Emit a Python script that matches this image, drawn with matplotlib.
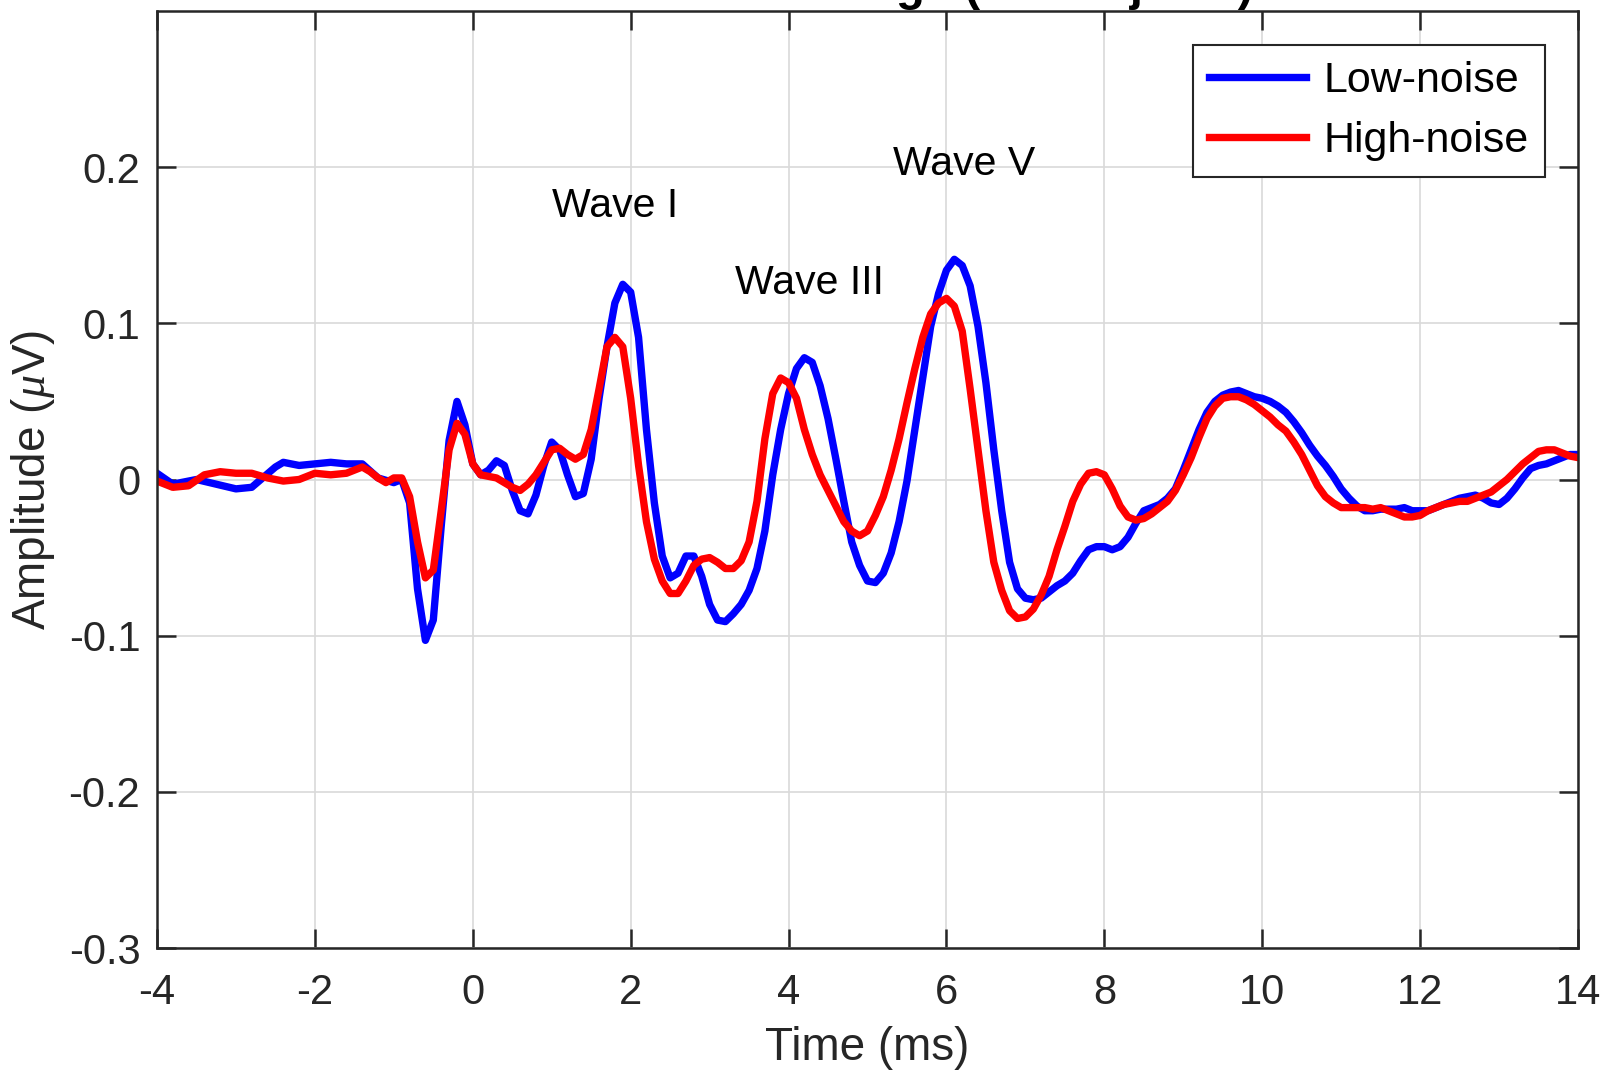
import numpy as np
import matplotlib
matplotlib.use("Agg")
import matplotlib.pyplot as plt

plt.rcParams['font.family'] = ['Liberation Sans', 'DejaVu Sans']
plt.rcParams['axes.unicode_minus'] = False
plt.rcParams['mathtext.fontset'] = 'custom'
plt.rcParams['mathtext.it'] = 'Liberation Serif:italic'

# Grand-average ABR waveforms (time in ms, amplitude in microvolts)
t_low = [-4.0, -3.8, -3.5, -3.0, -2.8, -2.5, -2.4, -2.2, -2.0, -1.8, -1.6, -1.4,
         -1.2, -1.0, -0.9, -0.8, -0.7, -0.6, -0.5, -0.4, -0.3, -0.2, -0.1,
         0.0, 0.1, 0.2, 0.3, 0.4, 0.5, 0.6, 0.7, 0.8, 0.9, 1.0, 1.1, 1.2, 1.3,
         1.4, 1.5, 1.6, 1.7, 1.8, 1.9, 2.0, 2.1, 2.2, 2.3, 2.4, 2.5, 2.6, 2.7,
         2.8, 2.9, 3.0, 3.1, 3.2, 3.3, 3.4, 3.5, 3.6, 3.7, 3.8, 3.9, 4.0, 4.1,
         4.2, 4.3, 4.4, 4.5, 4.6, 4.7, 4.8, 4.9, 5.0, 5.1, 5.2, 5.3, 5.4, 5.5,
         5.6, 5.7, 5.8, 5.9, 6.0, 6.1, 6.2, 6.3, 6.4, 6.5, 6.6, 6.7, 6.8, 6.9,
         7.0, 7.1, 7.2, 7.3, 7.4, 7.5, 7.6, 7.7, 7.8, 7.9, 8.0, 8.1, 8.2, 8.3,
         8.4, 8.5, 8.6, 8.7, 8.8, 8.9, 9.0, 9.1, 9.2, 9.3, 9.4, 9.5, 9.6, 9.7,
         9.8, 9.9, 10.0, 10.1, 10.2, 10.3, 10.4, 10.5, 10.6, 10.7, 10.8, 10.9,
         11.0, 11.1, 11.2, 11.3, 11.4, 11.5, 11.6, 11.7, 11.8, 11.9, 12.0, 12.1,
         12.2, 12.3, 12.4, 12.5, 12.6, 12.7, 12.8, 12.9, 13.0, 13.1, 13.2, 13.3,
         13.4, 13.5, 13.6, 13.7, 13.8, 13.9, 14.0]
low_noise = [0.004, -0.003, 0.000, -0.006, -0.005, 0.008, 0.011, 0.009, 0.010, 0.011, 0.010, 0.010,
             0.001, -0.002, 0.000, -0.015, -0.070, -0.103, -0.090, -0.030, 0.025, 0.050, 0.035,
             0.010, 0.003, 0.006, 0.012, 0.009, -0.007, -0.020, -0.022, -0.010, 0.009, 0.024, 0.019, 0.003, -0.011,
             -0.009, 0.013, 0.052, 0.085, 0.113, 0.125, 0.120, 0.091, 0.032, -0.015, -0.049, -0.063, -0.060, -0.049,
             -0.049, -0.062, -0.080, -0.090, -0.091, -0.086, -0.080, -0.071, -0.057, -0.033, 0.003, 0.032, 0.055, 0.071,
             0.078, 0.075, 0.060, 0.039, 0.013, -0.014, -0.040, -0.055, -0.065, -0.066, -0.060, -0.047, -0.027, -0.001,
             0.032, 0.065, 0.098, 0.119, 0.134, 0.141, 0.137, 0.124, 0.098, 0.062, 0.019, -0.020, -0.053, -0.070,
             -0.076, -0.077, -0.076, -0.072, -0.068, -0.065, -0.060, -0.052, -0.045, -0.043, -0.043, -0.045, -0.043, -0.037,
             -0.028, -0.020, -0.018, -0.016, -0.012, -0.006, 0.006, 0.019, 0.032, 0.043, 0.050, 0.054, 0.056, 0.057,
             0.055, 0.053, 0.052, 0.050, 0.047, 0.043, 0.037, 0.030, 0.022, 0.015, 0.009, 0.002,
             -0.006, -0.012, -0.017, -0.020, -0.020, -0.019, -0.019, -0.019, -0.018, -0.020, -0.020, -0.020,
             -0.018, -0.016, -0.014, -0.012, -0.011, -0.010, -0.012, -0.015, -0.016, -0.012, -0.006, 0.001,
             0.007, 0.009, 0.010, 0.012, 0.014, 0.016, 0.016]

t_high = [-4.0, -3.8, -3.6, -3.4, -3.2, -3.0, -2.8, -2.6, -2.4, -2.2, -2.0, -1.8, -1.6,
          -1.4, -1.3, -1.2, -1.1, -1.0, -0.9, -0.8, -0.7, -0.6, -0.5, -0.4, -0.3, -0.2, -0.1,
          0.0, 0.1, 0.2, 0.3, 0.4, 0.5, 0.6, 0.7, 0.8, 0.9, 1.0, 1.1, 1.2, 1.3,
          1.4, 1.5, 1.6, 1.7, 1.8, 1.9, 2.0, 2.1, 2.2, 2.3, 2.4, 2.5, 2.6, 2.7,
          2.8, 2.9, 3.0, 3.1, 3.2, 3.3, 3.4, 3.5, 3.6, 3.7, 3.8, 3.9, 4.0, 4.1,
          4.2, 4.3, 4.4, 4.5, 4.6, 4.7, 4.8, 4.9, 5.0, 5.1, 5.2, 5.3, 5.4, 5.5,
          5.6, 5.7, 5.8, 5.9, 6.0, 6.1, 6.2, 6.3, 6.4, 6.5, 6.6, 6.7, 6.8, 6.9,
          7.0, 7.1, 7.2, 7.3, 7.4, 7.5, 7.6, 7.7, 7.8, 7.9, 8.0, 8.1, 8.2, 8.3,
          8.4, 8.5, 8.6, 8.7, 8.8, 8.9, 9.0, 9.1, 9.2, 9.3, 9.4, 9.5, 9.6, 9.7,
          9.8, 9.9, 10.0, 10.1, 10.2, 10.3, 10.4, 10.5, 10.6, 10.7, 10.8, 10.9,
          11.0, 11.1, 11.2, 11.3, 11.4, 11.5, 11.6, 11.7, 11.8, 11.9, 12.0, 12.1,
          12.2, 12.3, 12.4, 12.5, 12.6, 12.7, 12.8, 12.9, 13.0, 13.1, 13.2, 13.3,
          13.4, 13.5, 13.6, 13.7, 13.8, 13.9, 14.0]
high_noise = [-0.001, -0.005, -0.004, 0.003, 0.005, 0.004, 0.004, 0.001, -0.001, 0.000, 0.004, 0.003, 0.004,
              0.008, 0.005, 0.001, -0.002, 0.001, 0.001, -0.011, -0.040, -0.063, -0.058, -0.020, 0.019, 0.036, 0.029,
              0.010, 0.003, 0.002, 0.001, -0.002, -0.005, -0.007, -0.003, 0.003, 0.011, 0.019, 0.020, 0.016, 0.013,
              0.016, 0.032, 0.058, 0.085, 0.091, 0.085, 0.052, 0.009, -0.027, -0.051, -0.065, -0.073, -0.073, -0.065,
              -0.055, -0.051, -0.050, -0.053, -0.057, -0.057, -0.052, -0.040, -0.014, 0.026, 0.055, 0.065, 0.062, 0.052,
              0.032, 0.016, 0.003, -0.007, -0.017, -0.027, -0.033, -0.036, -0.033, -0.023, -0.011, 0.006, 0.026, 0.049,
              0.071, 0.091, 0.106, 0.113, 0.116, 0.111, 0.095, 0.058, 0.019, -0.020, -0.053, -0.071, -0.084, -0.089,
              -0.088, -0.083, -0.074, -0.062, -0.045, -0.030, -0.014, -0.003, 0.004, 0.005, 0.003, -0.006, -0.017, -0.024,
              -0.026, -0.025, -0.022, -0.018, -0.014, -0.007, 0.003, 0.014, 0.027, 0.039, 0.047, 0.052, 0.053, 0.053,
              0.051, 0.048, 0.044, 0.040, 0.035, 0.031, 0.024, 0.016, 0.006, -0.004, -0.011, -0.015,
              -0.018, -0.018, -0.018, -0.018, -0.019, -0.018, -0.020, -0.022, -0.024, -0.024, -0.023, -0.020,
              -0.018, -0.016, -0.015, -0.014, -0.014, -0.012, -0.010, -0.008, -0.004, 0.000, 0.005, 0.010,
              0.014, 0.018, 0.019, 0.019, 0.017, 0.015, 0.014]

wave_labels = ["Wave I", "Wave III", "Wave V"]
wave_label_x = [1.80, 4.26, 6.22]
wave_label_y = [0.175, 0.126, 0.202]

x_ticks = [-4, -2, 0, 2, 4, 6, 8, 10, 12, 14]
y_ticks = [-0.3, -0.2, -0.1, 0, 0.1, 0.2]
y_tick_labels = ["-0.3", "-0.2", "-0.1", "0", "0.1", "0.2"]

W, H = 1606, 1073
fig = plt.figure(figsize=(W / 100, H / 100), dpi=100)
ax = fig.add_axes([157 / W, 125 / H, (1578 - 157) / W, (1062 - 125) / H])

axis_color = '#262626'
ax.plot(t_low, low_noise, color='#0000ff', lw=5.3, label='Low-noise', solid_joinstyle='round')
ax.plot(t_high, high_noise, color='#ff0000', lw=5.3, label='High-noise', solid_joinstyle='round')

ax.set_xlim(-4, 14)
ax.set_ylim(-0.3, 0.3)
ax.set_xticks(x_ticks)
ax.set_xticklabels([str(v) for v in x_ticks])
ax.set_yticks(y_ticks)
ax.set_yticklabels(y_tick_labels)

ax.grid(True, color='#d9d9d9', lw=1.2)
ax.set_axisbelow(True)
for s in ax.spines.values():
    s.set_color(axis_color)
    s.set_linewidth(1.8)
ax.tick_params(direction='in', length=14, width=1.8, color=axis_color,
               labelsize=30, labelcolor=axis_color, top=True, right=True, pad=12)
ax.tick_params(axis='x', pad=18)

ax.set_xlabel('Time (ms)', fontsize=33, color=axis_color, labelpad=9)
ax.set_ylabel(r'Amplitude ($\mu$V)', fontsize=33, color=axis_color, labelpad=8)

for lab, x, y in zip(wave_labels, wave_label_x, wave_label_y):
    ax.text(x, y, lab, fontsize=29.5, ha='center', va='center', color='black')

leg = ax.legend(loc='upper right', bbox_to_anchor=(0.9768, 0.9637), borderaxespad=0,
                fontsize=31, fancybox=False, framealpha=1, edgecolor=axis_color,
                handlelength=2.25, handletextpad=0.4, borderpad=0.38, labelspacing=0.45)
leg.get_frame().set_linewidth(1.5)

fig.text(935 / W, 1.0, 'Grand Average (all subjects)', fontsize=34, fontweight='bold',
         ha='center', va='baseline', color='black')

fig.savefig('out.png', dpi=100)
